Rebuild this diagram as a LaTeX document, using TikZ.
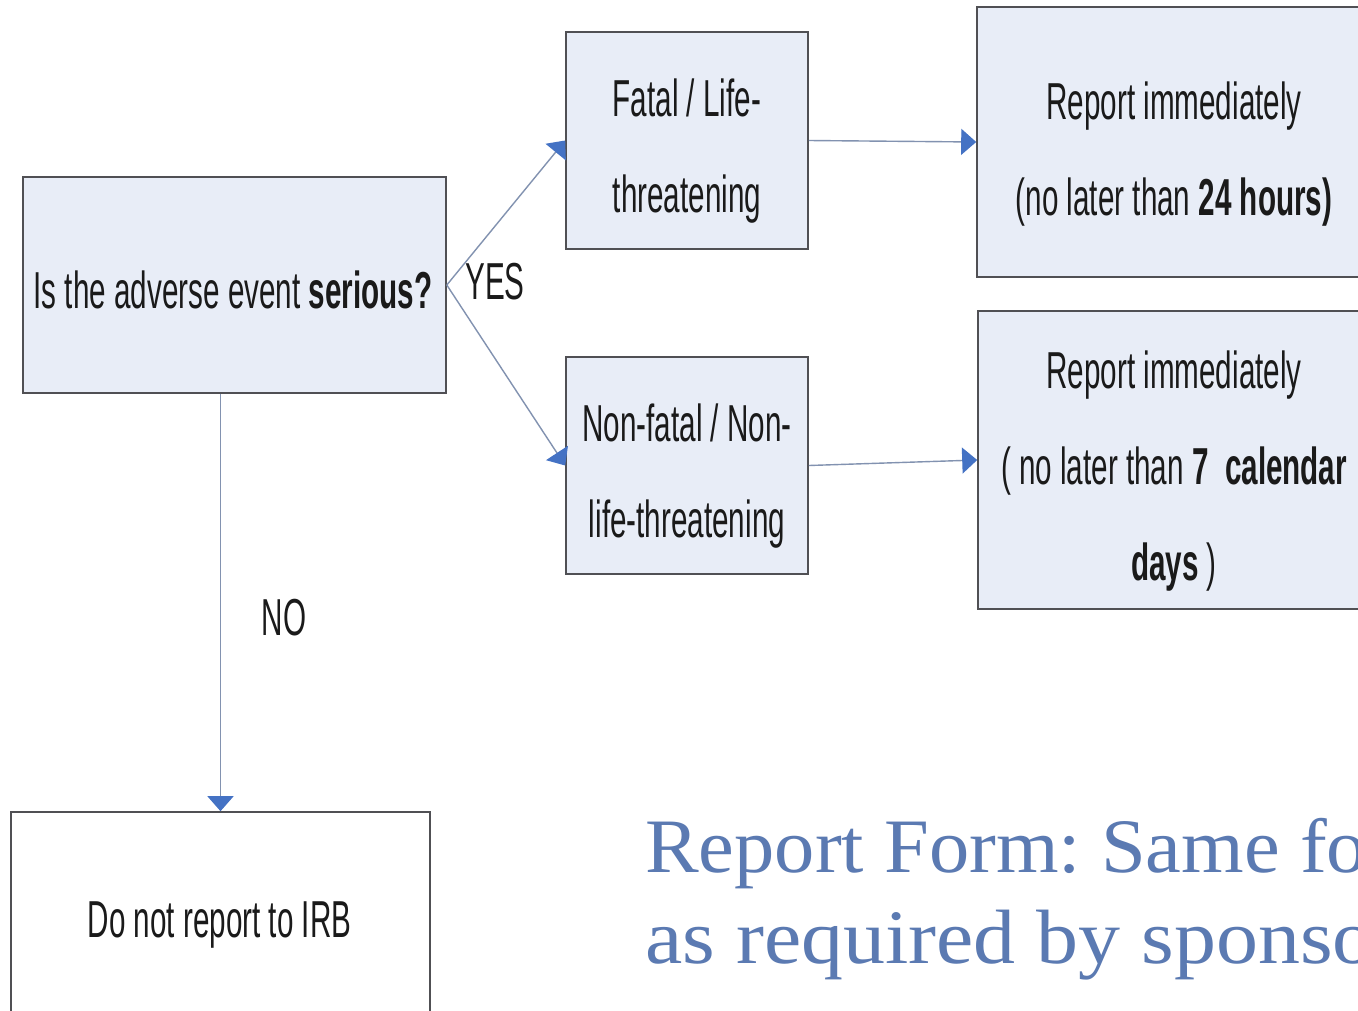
\documentclass[tikz,border=0pt]{standalone}
\usepackage{fontspec}
\newfontfamily\cond[FakeStretch=0.57]{Liberation Sans}
\newfontfamily\titlefont[FakeStretch=1.045]{Liberation Serif}
\newfontfamily\titlefontb[FakeStretch=1.09]{Liberation Serif}
\usetikzlibrary{arrows.meta}
\definecolor{boxfill}{RGB}{232,237,247}
\definecolor{boxline}{RGB}{80,80,84}
\definecolor{txt}{RGB}{26,26,26}
\definecolor{lineclr}{RGB}{130,146,176}
\definecolor{tipclr}{RGB}{68,114,196}
\definecolor{titleblue}{RGB}{91,122,178}
\begin{document}
\frenchspacing
\begin{tikzpicture}[x=1pt,y=-1pt,
  box/.style={draw=boxline, line width=1.6pt, fill=boxfill, inner sep=0pt},
  wbox/.style={draw=boxline, line width=1.6pt, fill=white, inner sep=0pt},
  lbl/.style={font=\cond\fontsize{52}{96}\selectfont, text=txt, align=center, inner sep=0pt},
  ttl/.style={text=titleblue, inner sep=0pt, anchor=base west},
  conn/.style={draw=lineclr, line width=1.4pt, -{Triangle[length=15pt,width=26pt,fill=tipclr,color=tipclr]}}]
\useasboundingbox (0,0) rectangle (1358,1010);
\clip (0,0) rectangle (1358,1010);
\fill[white] (0,0) rectangle (1358,1010);
% boxes
\node[box, minimum width=423pt, minimum height=216pt] (A) at (234.5,285) {};
\node[box, minimum width=242pt, minimum height=217pt] (B) at (687,140.5) {};
\node[box, minimum width=242pt, minimum height=217pt] (C) at (687,465.5) {};
\node[box, minimum width=394pt, minimum height=270pt] (D) at (1174,142) {};
\node[box, minimum width=393pt, minimum height=298pt] (E) at (1174.5,460) {};
\node[wbox, minimum width=419pt, minimum height=260pt] (F) at (220.5,942) {};
% texts
\node[lbl, anchor=base] (At) at (233,308) {Is the adverse event \textbf{serious?}};
\node[lbl] (Bt) at (687,151.5) {Fatal / Life-\\threatening};
\node[lbl] (Ct) at (687,476) {Non-fatal / Non-\\life-threatening};
\node[lbl] (Dt) at (1174,154) {Report immediately\\(no later than \textbf{24 hours)}};
\node[lbl] (Et) at (1174,471.5) {Report immediately\\( no later than \textbf{7}\ \ \textbf{calendar}\\\textbf{days} )};
\node[lbl, anchor=base] (Ft) at (219.5,937) {Do not report to IRB};
\node[lbl] (yes) at (495,282) {YES};
\node[lbl] (no) at (284,618) {NO};
% connectors
\draw[conn] (A.east) -- (B.west);
\draw[conn] (A.east) -- (C.west);
\draw[conn] (B.east) -- (D.west);
\draw[conn] (C.east) -- (E.west);
\draw[conn] (A.south -| F.north) -- (F.north);
% title text
\node[ttl, font=\titlefont\fontsize{77}{90}\selectfont] (T1) at (645,872) {Report Form: Same fo};
\node[ttl, font=\titlefontb\fontsize{77}{90}\selectfont] (T2) at (645,963) {as required by sponso};
\end{tikzpicture}
\end{document}
